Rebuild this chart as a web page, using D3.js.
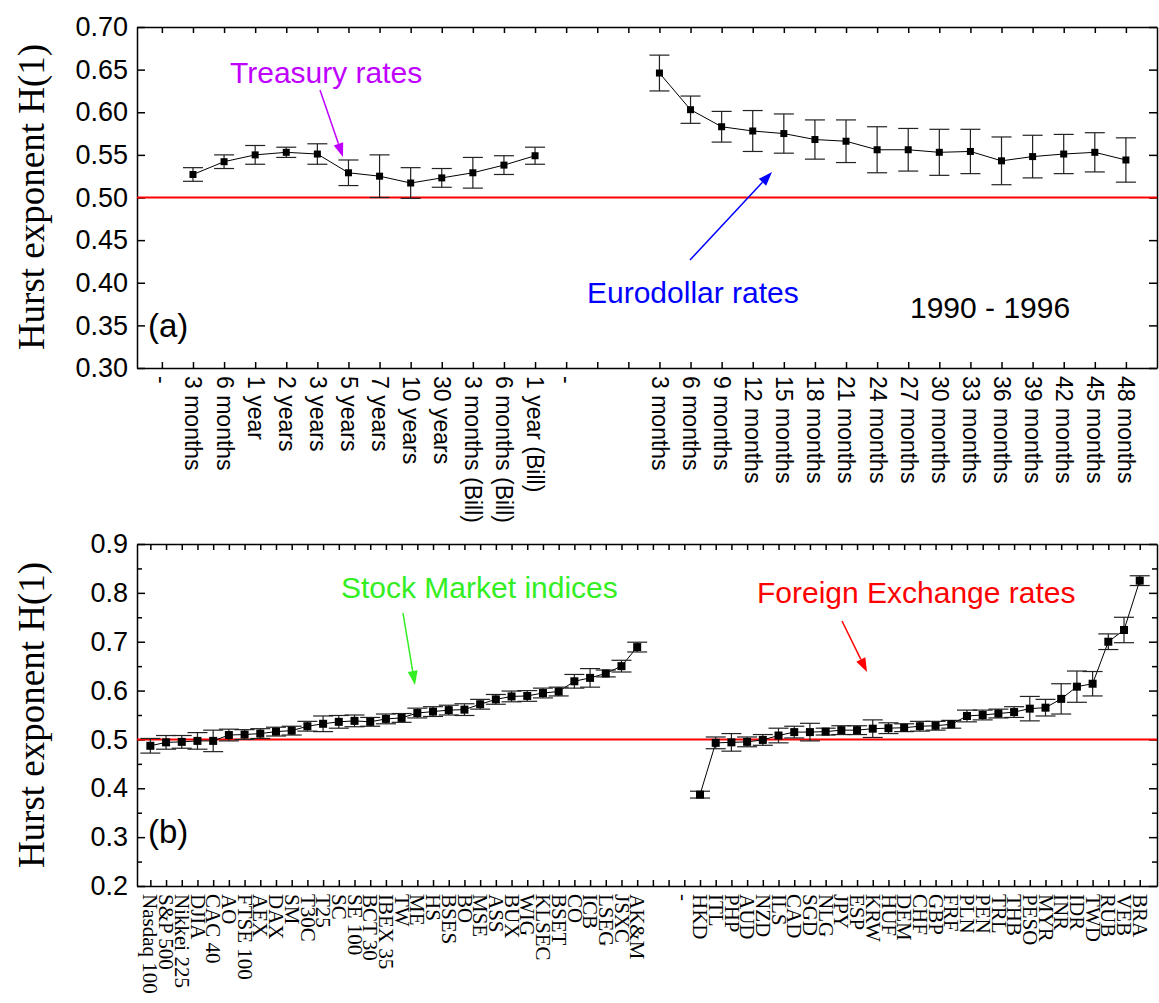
<!DOCTYPE html>
<html>
<head>
<meta charset="utf-8">
<script src="https://cdn.jsdelivr.net/npm/d3@7"></script>
<style>
  body { margin: 0; background: #fff; }
  .axis path, .axis line { stroke: #000; stroke-width: 1.5; }
</style>
</head>
<body>
<div id="chart"></div>
<script>
// ---- panel (a) data ----
var treasuryCats = ["3 months", "6 months", "1 year", "2 years", "3 years", "5 years", "7 years",
  "10 years", "30 years", "3 months (Bill)", "6 months (Bill)", "1 year (Bill)"];
var treasuryH   = [0.527, 0.542, 0.550, 0.553, 0.551, 0.529, 0.525, 0.517, 0.523, 0.529, 0.538, 0.549];
var treasuryErr = [0.008, 0.008, 0.011, 0.006, 0.012, 0.015, 0.025, 0.018, 0.011, 0.018, 0.011, 0.010];

var euroCats = ["3 months", "6 months", "9 months", "12 months", "15 months", "18 months", "21 months",
  "24 months", "27 months", "30 months", "33 months", "36 months", "39 months", "42 months", "45 months", "48 months"];
var euroH   = [0.646, 0.603, 0.583, 0.578, 0.575, 0.568, 0.566, 0.556, 0.556, 0.553, 0.554, 0.543, 0.548, 0.551, 0.553, 0.544];
var euroErr = [0.021, 0.016, 0.018, 0.024, 0.023, 0.023, 0.025, 0.027, 0.025, 0.027, 0.026, 0.028, 0.025, 0.023, 0.023, 0.026];

var topYTicks = [0.30, 0.35, 0.40, 0.45, 0.50, 0.55, 0.60, 0.65, 0.70];

// ---- panel (b) data ----
var stockCats = ["Nasdaq 100", "S&P 500", "Nikkei 225", "DJIA", "CAC 40", "AO", "FTSE 100", "AEX", "DAX", "SM",
  "T30C", "T25", "SC", "SE 100", "BCT 30", "IBEX 35", "TW", "ME", "HS", "BSES", "BO", "MSE", "ASS", "BUX",
  "WIG", "KLSEC", "BSET", "CO", "ICB", "LSEG", "JSXC", "AK&M"];
var stockH   = [0.487, 0.494, 0.495, 0.497, 0.497, 0.509, 0.510, 0.512, 0.516, 0.518, 0.527, 0.532, 0.536, 0.538,
  0.536, 0.542, 0.544, 0.554, 0.557, 0.560, 0.561, 0.572, 0.582, 0.588, 0.589, 0.595, 0.598, 0.619, 0.626,
  0.635, 0.650, 0.689];
var stockErr = [0.015, 0.014, 0.013, 0.017, 0.022, 0.012, 0.010, 0.010, 0.009, 0.009, 0.010, 0.016, 0.013, 0.012,
  0.009, 0.010, 0.009, 0.010, 0.010, 0.010, 0.012, 0.010, 0.010, 0.011, 0.011, 0.010, 0.009, 0.014, 0.019,
  0.007, 0.012, 0.010];

var fxCats = ["HKD", "ITL", "PHP", "AUD", "NZD", "ILS", "CAD", "SGD", "NLG", "JPY", "ESP", "KRW", "HUF", "DEM",
  "CHF", "GBP", "FRF", "PLN", "PEN", "TRL", "THB", "PESO", "MYR", "INR", "IDR", "TWD", "RUB", "VEB", "BRA"];
var fxH   = [0.387, 0.493, 0.494, 0.495, 0.499, 0.508, 0.515, 0.515, 0.516, 0.519, 0.519, 0.522, 0.523, 0.524,
  0.527, 0.528, 0.531, 0.548, 0.550, 0.553, 0.556, 0.563, 0.565, 0.583, 0.608, 0.614, 0.700, 0.724, 0.825];
var fxErr = [0.007, 0.012, 0.018, 0.010, 0.011, 0.015, 0.012, 0.018, 0.007, 0.009, 0.009, 0.018, 0.011, 0.008,
  0.010, 0.009, 0.008, 0.012, 0.010, 0.009, 0.011, 0.025, 0.017, 0.031, 0.032, 0.025, 0.016, 0.026, 0.010];

var botYTicks = [0.2, 0.3, 0.4, 0.5, 0.6, 0.7, 0.8, 0.9];
var botYMinor = [0.25, 0.35, 0.45, 0.55, 0.65, 0.75, 0.85];

// category lists incl. separators
var topCats = ["-"].concat(treasuryCats, ["-", "", ""], euroCats);
var botCats = stockCats.concat(["", "", "-"], fxCats);

var W = 1159, H = 1003;
var svg = d3.select("#chart").append("svg")
  .attr("width", W).attr("height", H)
  .style("font-family", "'Liberation Sans', Arial, sans-serif");

var xa = d3.scaleLinear().domain([-0.8, 32]).range([137, 1157]);
var ya = d3.scaleLinear().domain([0.30, 0.70]).range([368, 27]);
var xb = d3.scaleLinear().domain([-0.85, 64.1]).range([137, 1157]);
var yb = d3.scaleLinear().domain([0.2, 0.9]).range([886, 544]);

function frame(x, y, cats, yTicks, yFmt, labelFont, labelSize, minor) {
  var x0 = x.range()[0], x1 = x.range()[1], y0 = y.range()[0], y1 = y.range()[1];
  var idx = d3.range(cats.length);

  // bottom axis with rotated category labels
  var gb = svg.append("g").attr("class", "axis")
    .attr("transform", "translate(0," + y0 + ")")
    .call(d3.axisBottom(x).tickValues(idx).tickSizeInner(-6).tickSizeOuter(0)
      .tickFormat(function(i) { return cats[i]; }));
  gb.selectAll("text")
    .attr("transform", "rotate(90)")
    .attr("x", 8).attr("y", 0).attr("dy", "0.35em")
    .style("text-anchor", "start")
    .style("font-family", labelFont)
    .style("font-size", labelSize + "px")
    .attr("fill", "#000");

  svg.append("g").attr("class", "axis")
    .attr("transform", "translate(0," + y1 + ")")
    .call(d3.axisTop(x).tickValues(idx).tickSizeInner(-6).tickSizeOuter(0).tickFormat(""));

  var gl = svg.append("g").attr("class", "axis")
    .attr("transform", "translate(" + x0 + ",0)")
    .call(d3.axisLeft(y).tickValues(yTicks).tickSizeInner(-8).tickSizeOuter(0).tickPadding(9)
      .tickFormat(d3.format(yFmt)));
  gl.selectAll("text").style("font-size", "27px").attr("fill", "#000");

  svg.append("g").attr("class", "axis")
    .attr("transform", "translate(" + x1 + ",0)")
    .call(d3.axisRight(y).tickValues(yTicks).tickSizeInner(-8).tickSizeOuter(0).tickFormat(""));

  if (minor) {
    svg.append("g").attr("class", "axis")
      .attr("transform", "translate(" + x0 + ",0)")
      .call(d3.axisLeft(y).tickValues(minor).tickSizeInner(-5).tickSizeOuter(0).tickFormat(""))
      .select(".domain").remove();
    svg.append("g").attr("class", "axis")
      .attr("transform", "translate(" + x1 + ",0)")
      .call(d3.axisRight(y).tickValues(minor).tickSizeInner(-5).tickSizeOuter(0).tickFormat(""))
      .select(".domain").remove();
  }

  // reference line H = 0.5
  svg.append("line")
    .attr("x1", x0).attr("x2", x1)
    .attr("y1", y(0.5)).attr("y2", y(0.5))
    .attr("stroke", "#ff0000").attr("stroke-width", 2);
}

function series(x, y, start, vals, errs, msize) {
  var pts = vals.map(function(v, i) { return { i: start + i, v: v, e: errs[i] }; });
  var g = svg.append("g");

  g.append("path").datum(pts)
    .attr("fill", "none").attr("stroke", "#000").attr("stroke-width", 1)
    .attr("d", d3.line().x(function(d) { return x(d.i); }).y(function(d) { return y(d.v); }));

  var eb = g.selectAll(".eb").data(pts).enter().append("g")
    .attr("stroke", "#222").attr("stroke-width", 1.2);
  eb.append("line")
    .attr("x1", function(d) { return x(d.i); }).attr("x2", function(d) { return x(d.i); })
    .attr("y1", function(d) { return y(d.v - d.e); }).attr("y2", function(d) { return y(d.v + d.e); });
  [1, -1].forEach(function(s) {
    eb.append("line")
      .attr("x1", function(d) { return x(d.i) - 10; }).attr("x2", function(d) { return x(d.i) + 10; })
      .attr("y1", function(d) { return y(d.v + s * d.e); }).attr("y2", function(d) { return y(d.v + s * d.e); });
  });

  g.selectAll(".pt").data(pts).enter().append("rect")
    .attr("x", function(d) { return x(d.i) - msize / 2; })
    .attr("y", function(d) { return y(d.v) - msize / 2; })
    .attr("width", msize).attr("height", msize)
    .attr("fill", "#000");
}

function note(txt, x, y, color, size, arrow) {
  svg.append("text").attr("x", x).attr("y", y)
    .attr("fill", color).style("font-size", size + "px").text(txt);
  if (!arrow) return;
  var ax = arrow[0], ay = arrow[1], bx = arrow[2], by = arrow[3];
  var ang = Math.atan2(by - ay, bx - ax), L = 14, w = 5;
  var cx = bx - L * Math.cos(ang), cy = by - L * Math.sin(ang);
  svg.append("line").attr("x1", ax).attr("y1", ay).attr("x2", cx).attr("y2", cy)
    .attr("stroke", color).attr("stroke-width", 1.5);
  svg.append("path")
    .attr("d", "M" + bx + "," + by +
      "L" + (cx + w * Math.sin(ang)) + "," + (cy - w * Math.cos(ang)) +
      "L" + (cx - w * Math.sin(ang)) + "," + (cy + w * Math.cos(ang)) + "Z")
    .attr("fill", color);
}

// panel (a)
frame(xa, ya, topCats, topYTicks, ".2f", "'Liberation Sans', Arial, sans-serif", 23, null);
series(xa, ya, 1, treasuryH, treasuryErr, 7);
series(xa, ya, treasuryCats.length + 4, euroH, euroErr, 7);

// panel (b)
frame(xb, yb, botCats, botYTicks, ".1f", "'Liberation Serif', 'Times New Roman', serif", 21, botYMinor);
series(xb, yb, 0, stockH, stockErr, 8);
series(xb, yb, stockCats.length + 3, fxH, fxErr, 8);

// y titles
[[ya, 197], [yb, 715]].forEach(function(p) {
  svg.append("text")
    .attr("transform", "translate(44," + p[1] + ") rotate(-90)")
    .attr("text-anchor", "middle")
    .style("font-family", "'Liberation Serif', 'Times New Roman', serif")
    .style("font-size", "37px")
    .text("Hurst exponent H(1)");
});

// annotations
note("Treasury rates", 230, 83, "#c000ff", 30, [320, 90, 343, 157]);
note("Eurodollar rates", 587, 303, "#0000ff", 30, [690, 260, 772, 172]);
note("1990 - 1996", 910, 318, "#000", 30, null);
note("(a)", 148, 337, "#000", 33, null);
note("Stock Market indices", 341, 598, "#33ee22", 30, [403, 613, 415, 685]);
note("Foreign Exchange rates", 757, 603, "#ff0000", 30, [842, 621, 867, 672]);
note("(b)", 148, 843, "#000", 33, null);
</script>
</body>
</html>
